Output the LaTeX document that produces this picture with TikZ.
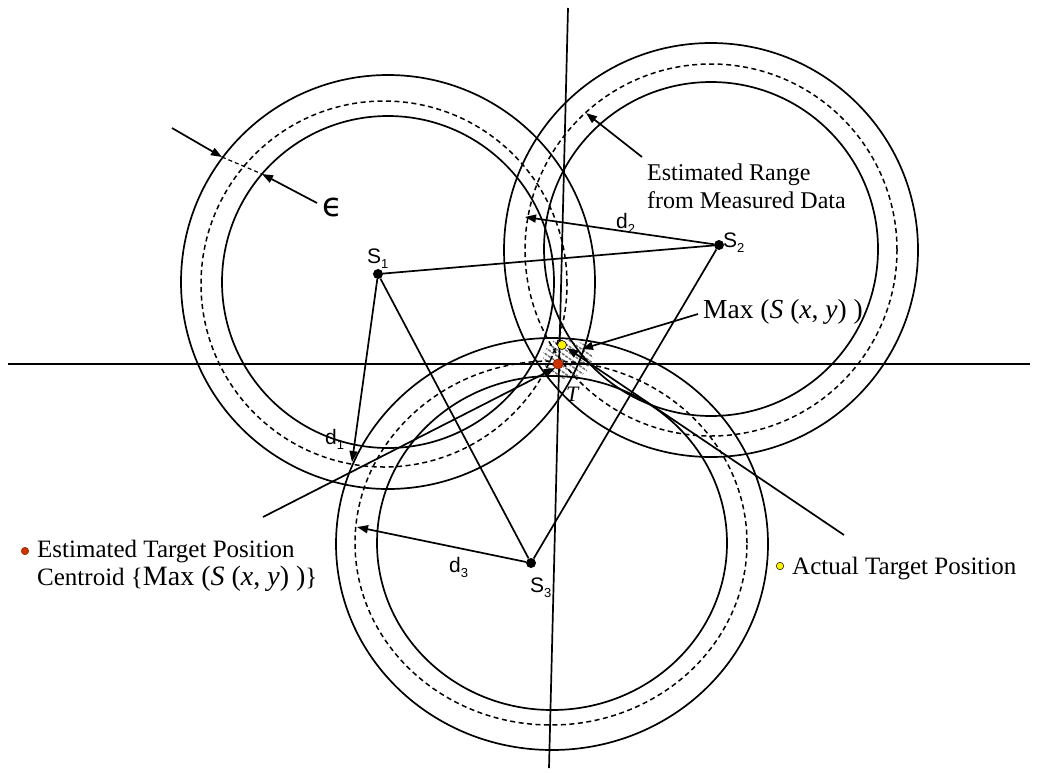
\documentclass[tikz,border=0pt]{standalone}
\usepackage{fontspec}
\setmainfont{Liberation Serif}
\newfontfamily\sansf{Liberation Sans}
\newfontfamily\djv{DejaVu Sans}
\usetikzlibrary{arrows.meta,calc}
\definecolor{estred}{RGB}{204,51,0}
\definecolor{hatchgray}{RGB}{110,110,110}
\begin{document}
\begin{tikzpicture}[x=1pt,y=-1pt,
  ln/.style={line width=1.7pt},
  dsh/.style={line width=1.5pt, dash pattern=on 5pt off 3.5pt},
  arr/.style={line width=1.7pt,-{Triangle[length=11pt,width=8pt]}},
  sdot/.style={circle,fill=black,inner sep=0pt,minimum size=10pt},
  sl/.style={font=\sansf\fontsize{21}{21}\selectfont, inner sep=0pt, anchor=base west},
  tl/.style={font=\fontsize{24}{28}\selectfont, inner sep=0pt},
]
\useasboundingbox (0,0) rectangle (1040,772);
\fill[white] (0,0) rectangle (1040,772);

% circle centres
\coordinate (C1o) at (388,282);
\coordinate (C1d) at (384,284);
\coordinate (C1i) at (388,282);
\coordinate (C2o) at (711,250);
\coordinate (C2d) at (711,250);
\coordinate (C2i) at (711,249);
\coordinate (C3o) at (552,544);
\coordinate (C3d) at (551,543);
\coordinate (C3i) at (552,543);

% hatched overlap region
\begin{scope}
  \clip[rounded corners=4pt] (542,353) -- (557,337) -- (586,344) -- (594,358) -- (585,374) -- (567,380) -- (547,373) -- cycle;
  \foreach \k in {-14,...,14}
    \draw[hatchgray, line width=1.5pt, dash pattern=on 3pt off 1.2pt] (500,{316+\k*6}) -- (640,{414+\k*6});
\end{scope}

% range circles
\draw[ln] (C1o) circle[radius=207pt];
\draw[dsh] (C1d) circle[radius=183pt];
\draw[ln] (C1i) circle[radius=166pt];
\draw[ln] (C2o) circle[radius=207pt];
\draw[dsh] (C2d) circle[radius=186pt];
\draw[ln] (C2i) circle[radius=167pt];
\draw[ln] (C3o) ellipse[x radius=216pt, y radius=206pt];
\draw[dsh] (C3d) ellipse[x radius=196pt, y radius=182pt];
\draw[ln] (C3i) ellipse[x radius=175pt, y radius=167pt];

% axes
\coordinate (vt) at (568,8);
\coordinate (vb) at (549,768);
\coordinate (hl) at (8,364);
\coordinate (hr) at (1030,364);
\draw[ln] (hl) -- (hr);
\draw[ln] (vt) -- (vb);

% sensors
\node[sdot] (S1) at (378,274) {};
\node[sdot] (S2) at (719,245) {};
\node[sdot] (S3) at (531,563) {};
\draw[ln] (S1) -- (S2) -- (S3) -- (S1);

% range arrows
\coordinate (d1e) at (352,462);
\coordinate (d2e) at (525,217);
\coordinate (d3e) at (357,527);
\draw[arr] (S1) -- (d1e);
\draw[arr] (S2) -- (d2e);
\draw[arr] (S3) -- (d3e);

% epsilon arrows
\coordinate (e1s) at (172,128);
\coordinate (e1t) at (222,157);
\coordinate (e2s) at (317,203);
\coordinate (e2t) at (262,174);
\draw[arr] (e1s) -- (e1t);
\draw[line width=1.2pt, dash pattern=on 4pt off 3pt] (e1t) -- (e2t);
\draw[arr] (e2s) -- (e2t);
\node[font=\djv\fontsize{33}{33}\selectfont, inner sep=0pt] (eps) at (333,207) {ϵ};

% target dots
\node[circle, fill=estred, draw=estred!70!black, line width=0.6pt, inner sep=0pt, minimum size=10pt] (est) at (558,364) {};
\node[circle, fill=yellow, draw=black, line width=0.6pt, inner sep=0pt, minimum size=9pt] (act) at (562,345) {};

% labels
\node[sl] (S1l) at (367,263) {S\raisebox{-5pt}{\fontsize{13}{13}\selectfont 1}};
\node[sl] (S2l) at (723,247) {S\raisebox{-5pt}{\fontsize{13}{13}\selectfont 2}};
\node[sl] (S3l) at (530,592) {S\raisebox{-5pt}{\fontsize{13}{13}\selectfont 3}};
\node[sl] (d1l) at (325,444) {d\raisebox{-5pt}{\fontsize{13}{13}\selectfont 1}};
\node[sl] (d2l) at (616,228) {d\raisebox{-5pt}{\fontsize{13}{13}\selectfont 2}};
\node[sl] (d3l) at (449,572) {d\raisebox{-5pt}{\fontsize{13}{13}\selectfont 3}};
\node[font=\itshape\fontsize{22}{22}\selectfont, inner sep=0pt, anchor=base west] (Tl) at (566,401) {T};

% Estimated range label
\node[tl, align=left, anchor=north west] (erl) at (647,163.5) {Estimated Range\\from Measured Data};
\coordinate (ers) at (642,157);
\coordinate (ert) at (586,113);
\draw[arr] (ers) -- (ert);

% Max label
\node[tl, font=\fontsize{27.5}{31}\selectfont, anchor=base west] (maxl) at (703,318) {Max (\textit{S} (\textit{x}, \textit{y}) )};
\coordinate (mxs) at (698,314);
\coordinate (mxt) at (582,349);
\draw[arr] (mxs) -- (mxt);

% legend: estimated target
\node[circle, fill=estred, draw=estred!70!black, line width=0.5pt, inner sep=0pt, minimum size=7.5pt] (legr) at (25,551) {};
\node[tl, font=\fontsize{25}{28}\selectfont, align=left, anchor=north west] (etl) at (37,540) {Estimated Target Position\\Centroid \{{\fontsize{28}{28}\selectfont Max (\textit{S} (\textit{x}, \textit{y}) )}\}};
\coordinate (ets) at (263,517);
\coordinate (ett) at (555,368);
\draw[arr] (ets) -- (ett);

% legend: actual target
\node[circle, fill=yellow, draw=black, line width=0.5pt, inner sep=0pt, minimum size=7.5pt] (legy) at (780,566) {};
\node[tl, font=\fontsize{25}{28}\selectfont, anchor=base west] (atl) at (792,574) {Actual Target Position};
\coordinate (ats) at (844,535);
\coordinate (att) at (567,348);
\draw[arr] (ats) -- (att);
\end{tikzpicture}
\end{document}
